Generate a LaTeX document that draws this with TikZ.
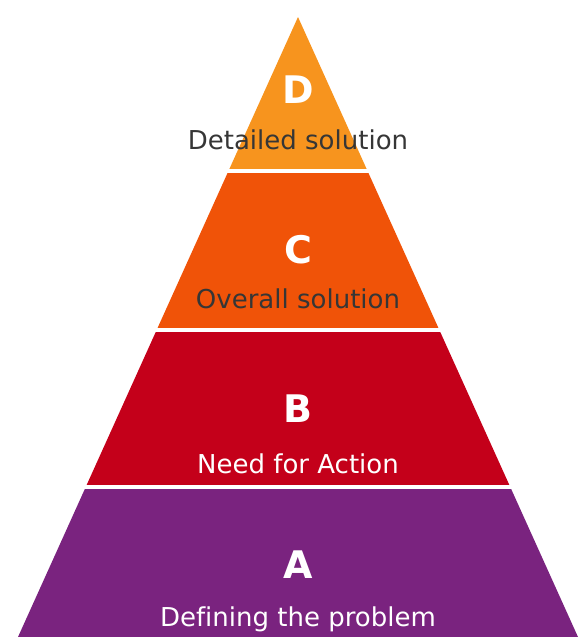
\documentclass[tikz,border=0pt]{standalone}
\usepackage{fontspec}
\setmainfont[Ligatures=NoCommon]{DejaVu Sans}
\usepackage{tikz}
\definecolor{tierA}{HTML}{7A237F}
\definecolor{tierB}{HTML}{C4001A}
\definecolor{tierC}{HTML}{F05308}
\definecolor{tierD}{HTML}{F7941E}
\definecolor{capgray}{HTML}{363636}
\tikzset{
    %Define style for the tier letters
    letter/.style={
           text=white,
           font=\fontsize{38}{40}\selectfont\bfseries,
           inner sep=0pt,
           anchor=base,
           },
    %Define style for the captions
    caption/.style={
           font=\fontsize{26}{28}\selectfont,
           inner sep=0pt,
           anchor=base,
           },
    darkcap/.style={caption, text=capgray},
    lightcap/.style={caption, text=white},
}

\begin{document}
\begin{tikzpicture}[x=1pt,y=-1pt]
\useasboundingbox (0,0) rectangle (588,637);

 %tiers
\foreach \top/\bot/\col in {17/168/tierD,173/327/tierC,332/484/tierB,489/637/tierA}{
  \begin{scope}
    \clip (0,\top) rectangle (588,\bot);
    \fill[\col] (298,17) -- (18,637) -- (578,637) -- cycle;
  \end{scope}
}

 %letters
\node[letter](d) at (298,103){D};
\node[letter](c) at (298,263){C};
\node[letter](b) at (298,422){B};
\node[letter](a) at (298,578){A};

 %captions
\node[darkcap](dtxt) at (298,149){Detailed solution};
\node[darkcap](ctxt) at (298,308){Overall solution};
\node[lightcap](btxt) at (298,473){Need for Action};
\node[lightcap](atxt) at (298,626){Defining the problem};

\end{tikzpicture}
\end{document}
